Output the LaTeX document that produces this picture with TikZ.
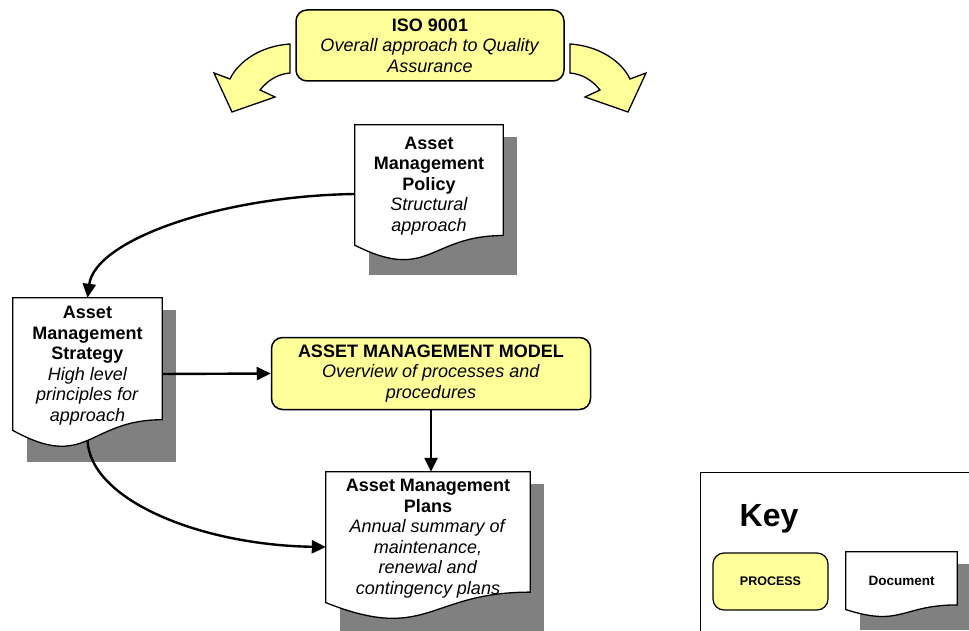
\documentclass[tikz,border=0pt]{standalone}
\usepackage{fontspec}
\setmainfont{Liberation Sans}
\usetikzlibrary{positioning, arrows.meta, calc, backgrounds}
\definecolor{procfill}{RGB}{255, 255, 153}
\definecolor{shadowgrey}{RGB}{128, 128, 128}

\begin{document}
\begin{tikzpicture}[x=1pt, y=-1pt, >={Triangle[length=14pt,width=13pt]},
    every node/.style={font=\fontsize{18}{20.5}\selectfont},
    process/.style={draw, line width=1.5pt, rounded corners=11pt, fill=procfill, align=center},
    docbox/.style={align=center, inner sep=4pt, text depth=20pt},
    docline/.style={draw, line width=1.3pt, fill=white},
    blockarrow/.style={draw, line width=1.3pt, fill=procfill, line join=miter},
    flow/.style={->, line width=2.4pt}]
    \useasboundingbox (0,0) rectangle (969,631);

    % top process and its two curved arrows
    \node[process, minimum width=268pt, minimum height=71pt] (iso) at (430,45.5) {\textbf{ISO 9001}\\\textit{Overall approach to Quality}\\\textit{Assurance}};
    \path[blockarrow] (290,44) .. controls (260,46) and (238,62) .. (230,79) -- (214,73) -- (232,112) -- (275,97) -- (260,90) .. controls (268,80) and (278,74) .. (290,73) -- cycle;
    \path[blockarrow] (570,44) .. controls (600,46) and (622,62) .. (630,79) -- (646,73) -- (628,112) -- (585,97) -- (600,90) .. controls (592,80) and (582,74) .. (570,73) -- cycle;

    % documents and model
    \node[docbox, minimum width=148pt, minimum height=138pt] (pol) at (429,194) {\textbf{Asset}\\\textbf{Management}\\\textbf{Policy}\\\textit{Structural}\\\textit{approach}};
    \node[docbox, minimum width=149pt, minimum height=152pt] (strat) at (87.5,374) {\textbf{Asset}\\\textbf{Management}\\\textbf{Strategy}\\\textit{High level}\\\textit{principles for}\\\textit{approach}};
    \node[process, minimum width=319pt, minimum height=72pt] (model) at (431,373.5) {\textbf{ASSET MANAGEMENT MODEL}\\\textit{Overview of processes and}\\\textit{procedures}};
    \node[docbox, minimum width=204pt, minimum height=150pt] (plans) at (428,547) {\textbf{Asset Management}\\\textbf{Plans}\\\textit{Annual summary of}\\\textit{maintenance,}\\\textit{renewal and}\\\textit{contingency plans}};

    % key
    \node[draw, line width=1.3pt, anchor=north west, minimum width=290pt, minimum height=180pt] (keyframe) at (700,472) {};
    \node[font=\fontsize{32}{36}\selectfont\bfseries] (keytitle) at (769,519) {Key};
    \node[process, line width=1.2pt, minimum width=115pt, minimum height=57pt, font=\fontsize{12.5}{14}\selectfont\bfseries] (keyproc) at (770.5,581.5) {PROCESS};
    \node[docbox, text depth=8pt, minimum width=111pt, minimum height=66pt, font=\fontsize{13.5}{15}\selectfont\bfseries] (keydoc) at (901.5,585) {Document};

    % shadows and wavy outlines behind the documents
    \begin{scope}[on background layer]
        \foreach \d in {pol, strat, plans, keydoc} {
            \fill[shadowgrey] ([shift={(14,12)}]\d.north west) rectangle ([shift={(14,12)}]\d.south east);
            \path[docline] (\d.north west) -- (\d.north east) -- ($(\d.north east)!0.8!(\d.south east)$)
                .. controls ($(\d.north)!0.8!(\d.south)$) and ($(\d.north)!1.14!(\d.south)$) .. ($(\d.north west)!0.87!(\d.south west)$) -- cycle;
        }
    \end{scope}

    \draw[flow] (pol.west) .. controls (220,196) and (95,240) .. (strat.north);
    \draw[flow] (strat.east) -- (model.west);
    \draw[flow] (model.south) -- (model.south |- plans.north);
    \draw[flow] ([yshift=10pt]strat.south) .. controls (90,500) and (200,545) .. (plans.west);
\end{tikzpicture}
\end{document}
